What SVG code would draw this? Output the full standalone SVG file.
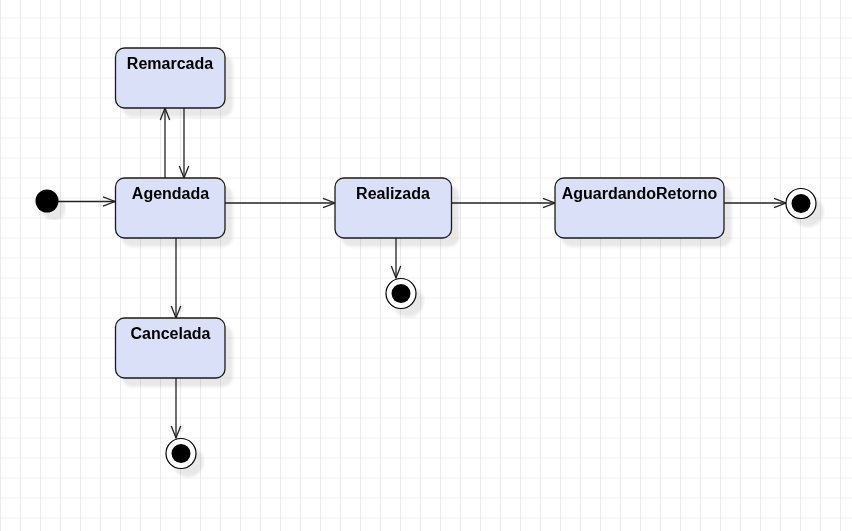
<svg xmlns="http://www.w3.org/2000/svg" width="852" height="531" viewBox="0 0 852 531">
<style>
.state{fill:#d9e0f7;stroke:#1a1a1a;stroke-width:1.3}
.lbl{font-family:"Liberation Sans",Arial,sans-serif;font-weight:bold;font-size:16px;fill:#000;text-anchor:middle}
.edge{fill:none;stroke:#222;stroke-width:1.3;marker-end:url(#arr)}
.fin-o{fill:#fff;stroke:#000;stroke-width:1.2}
.fin-i{fill:#000}
</style>
<defs>
<pattern id="grid" x="0" y="-1.5" width="20" height="20" patternUnits="userSpaceOnUse">
<path d="M0.5 0V20M0 19.8H20" stroke="#ebebeb" stroke-width="1" fill="none"/>
</pattern>
<filter id="sh" x="-20%" y="-20%" width="150%" height="150%">
<feDropShadow dx="7" dy="8" stdDeviation="1.8" flood-color="#000" flood-opacity="0.09"/>
</filter>
<marker id="arr" markerUnits="userSpaceOnUse" markerWidth="16" markerHeight="14" refX="13" refY="7" orient="auto" overflow="visible">
<path d="M1,2.3 L13,7 L1,11.7" fill="none" stroke="#222" stroke-width="1.3"/>
</marker>
</defs>
<rect width="852" height="531" fill="#fff"/>
<rect width="852" height="531" fill="url(#grid)"/>

<g id="connectors">
<line class="edge" x1="58" y1="201.5" x2="115" y2="201.5"/>
<line class="edge" x1="165" y1="178" x2="165" y2="108"/>
<line class="edge" x1="184" y1="108" x2="184" y2="178"/>
<line class="edge" x1="225" y1="203" x2="335" y2="203"/>
<line class="edge" x1="396" y1="238" x2="396" y2="278"/>
<line class="edge" x1="451" y1="203" x2="555" y2="203"/>
<line class="edge" x1="724" y1="203" x2="786" y2="203"/>
<line class="edge" x1="176" y1="238" x2="176" y2="318"/>
<line class="edge" x1="176" y1="378" x2="176" y2="438"/>
</g>

<g id="start" filter="url(#sh)">
<circle cx="47" cy="201" r="11.5" fill="#000"/>
</g>

<g id="Remarcada" filter="url(#sh)">
<rect class="state" x="115.5" y="48" width="109.5" height="60" rx="9"/>
<text class="lbl" x="170" y="69">Remarcada</text>
</g>

<g id="Agendada" filter="url(#sh)">
<rect class="state" x="115.5" y="178" width="109.5" height="60" rx="9"/>
<text class="lbl" x="170.5" y="199">Agendada</text>
</g>

<g id="Realizada" filter="url(#sh)">
<rect class="state" x="335" y="178" width="116.5" height="60" rx="9"/>
<text class="lbl" x="393" y="199">Realizada</text>
</g>

<g id="AguardandoRetorno" filter="url(#sh)">
<rect class="state" x="555" y="178" width="169" height="60" rx="9"/>
<text class="lbl" x="639.5" y="199">AguardandoRetorno</text>
</g>

<g id="Cancelada" filter="url(#sh)">
<rect class="state" x="115.5" y="318" width="109.5" height="60" rx="9"/>
<text class="lbl" x="170.5" y="339">Cancelada</text>
</g>

<g id="final1" filter="url(#sh)">
<circle class="fin-o" cx="401" cy="293.5" r="15"/>
<circle class="fin-i" cx="401" cy="293.5" r="9.5"/>
</g>

<g id="final2" filter="url(#sh)">
<circle class="fin-o" cx="801" cy="203.5" r="15"/>
<circle class="fin-i" cx="801" cy="203.5" r="9.5"/>
</g>

<g id="final3" filter="url(#sh)">
<circle class="fin-o" cx="181" cy="453.5" r="15"/>
<circle class="fin-i" cx="181" cy="453.5" r="9.5"/>
</g>
</svg>
